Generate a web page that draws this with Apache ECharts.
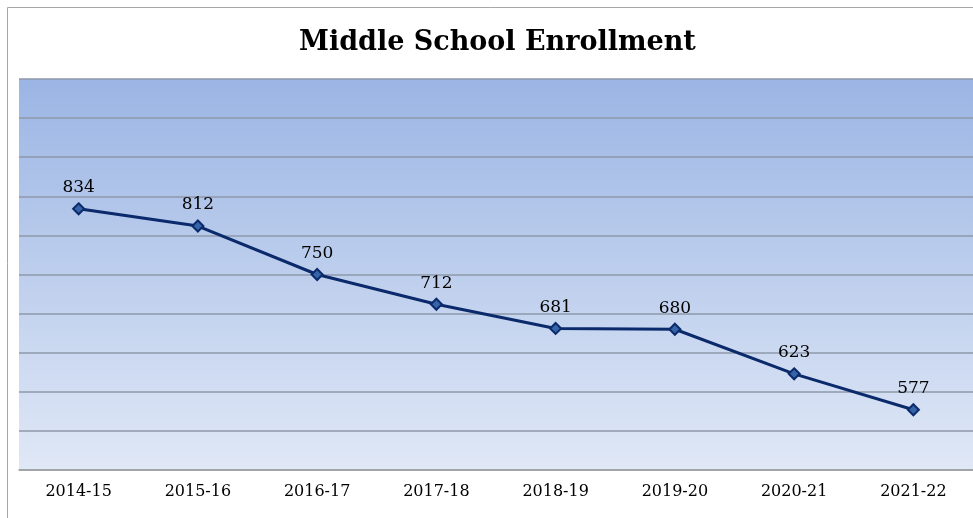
<!DOCTYPE html>
<html>
<head>
<meta charset="utf-8">
<script src="https://cdn.jsdelivr.net/npm/echarts@6/dist/echarts.min.js"></script>
<style>html,body{margin:0;padding:0;background:#fff}</style>
</head>
<body>
<div id="main" style="width:973px;height:518px"></div>
<script type="text/javascript">
	var years = ['2014-15', '2015-16', '2016-17', '2017-18', '2018-19', '2019-20', '2020-21', '2021-22'];
	var enrollment = [834, 812, 750, 712, 681, 680, 623, 577];

	var myChart = echarts.init(document.getElementById('main'));
	var serif = '"DejaVu Serif", "Liberation Serif", serif';

	var option = {
		animation: false,
		title: {
			text: 'Middle School Enrollment',
			left: 294,
			top: 24,
			textStyle: { fontFamily: serif, fontSize: 27, fontWeight: 'bold', color: '#000' }
		},
		// 外框
		graphic: [{
			type: 'rect',
			shape: { x: 7.5, y: 7.5, width: 1000, height: 530 },
			style: { fill: 'none', stroke: '#a6a6a6', lineWidth: 1 },
			silent: true
		}],
		grid: {
			left: 19, right: -4, top: 79, bottom: 48,
			show: true,
			borderWidth: 0,
			backgroundColor: new echarts.graphic.LinearGradient(0, 0, 0, 1, [
				{ offset: 0, color: '#9bb5e4' },
				{ offset: 1, color: '#e0e8f6' }
			])
		},
		xAxis: {
			type: 'category',
			data: years,
			boundaryGap: true,
			axisLine: { show: true, lineStyle: { color: '#a0a0a0', width: 1.5 } },
			axisTick: { show: false },
			axisLabel: { fontFamily: serif, fontSize: 16, color: '#000', margin: 14 }
		},
		yAxis: {
			type: 'value',
			min: 500,
			max: 1000,
			interval: 50,
			axisLabel: { show: false },
			axisLine: { show: false },
			axisTick: { show: false },
			splitLine: { show: true, lineStyle: { color: '#8e98aa', width: 1.5 } }
		},
		series: [{
			type: 'line',
			data: enrollment,
			symbol: 'diamond',
			symbolSize: 11,
			lineStyle: { color: '#0b2a6b', width: 3 },
			itemStyle: { color: '#3565a8', borderColor: '#0b2a6b', borderWidth: 2 },
			label: {
				show: true,
				position: 'top',
				distance: 6,
				fontFamily: serif,
				fontSize: 17,
				color: '#000'
			}
		}]
	};
	myChart.setOption(option);
</script>
</body>
</html>
